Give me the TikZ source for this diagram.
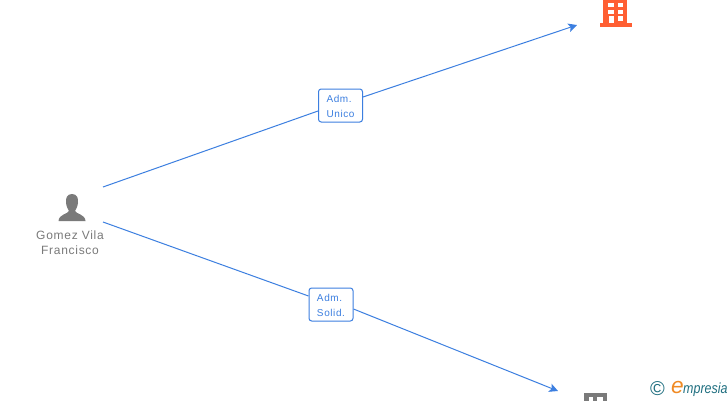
\documentclass[tikz,border=0pt]{standalone}
\usepackage{fontspec}
\setmainfont{Liberation Sans}
\usetikzlibrary{positioning,arrows.meta}
\definecolor{linkblue}{HTML}{3C7FE0}
\definecolor{iconorange}{HTML}{FF5F33}
\definecolor{icongray}{HTML}{7A7A7A}
\definecolor{logoteal}{HTML}{1F6F80}
\definecolor{logoorange}{HTML}{F08A24}
\tikzset{
    rolebox/.style={draw=linkblue, fill=white, rounded corners=2pt, line width=0.75pt, minimum width=33pt, minimum height=24.75pt, inner sep=0pt, align=left, text=linkblue, font=\fontsize{7.5pt}{11.2pt}\selectfont\addfontfeature{LetterSpace=6}},
    link/.style={draw=linkblue, line width=0.75pt},
    person/.style={align=center, text=icongray, font=\fontsize{9pt}{11.2pt}\selectfont\addfontfeature{LetterSpace=6}}
}
\begin{document}
\begin{tikzpicture}[x=0.75pt, y=-0.75pt]
    \useasboundingbox (0,0) rectangle (728,400);
    \clip (0,0) rectangle (728,400);
    \fill[white] (0,0) rectangle (728,400);

    % Nguoi
    \fill[icongray] (72,194) .. controls (67,194) and (65.5,198) .. (66,203) .. controls (66.5,207) and (68,209) .. (69,211) .. controls (68,214) and (59,214) .. (58.5,221) -- (85.5,221) .. controls (85,214) and (76,214) .. (75,211) .. controls (76,209) and (77.5,207) .. (78,203) .. controls (78.5,198) and (77,194) .. (72,194) -- cycle;
    \node[person] (gomez) at (70,243) {Gomez Vila\\Francisco};

    % Toa nha cam
    \fill[iconorange] (603,-2) rectangle (627,24);
    \fill[iconorange] (599.5,23) rectangle (631.5,26.5);
    \fill[white] (608,3) rectangle (613.5,7);
    \fill[white] (618,3) rectangle (623,7);
    \fill[white] (608,9.5) rectangle (613.5,13.5);
    \fill[white] (618,9.5) rectangle (623,13.5);
    \fill[white] (609,16) rectangle (613.5,23);
    \fill[white] (618,16) rectangle (623,20.5);

    % Toa nha xam
    \fill[icongray] (584,393) rectangle (606.5,402);
    \fill[white] (588.5,397) rectangle (593,402);
    \fill[white] (597,397) rectangle (602.5,402);

    % Diem dau, diem cuoi
    \coordinate (startup) at (103,187);
    \coordinate (startdown) at (103,222);
    \coordinate (endup) at (577,25);
    \coordinate (enddown) at (558,391);

    % Nhan
    \node[rolebox] (unico) at (340.5,105.5) {\rule{0pt}{6.5pt}Adm.\hspace{1pt}\\Unico};
    \node[rolebox] (solid) at (331,304.5) {\rule{0pt}{6.5pt}Adm.\hspace{1pt}\\Solid.};

    % Duong noi
    \draw[link] (startup) -- (unico.west |- 0,111);
    \draw[link, -{Stealth[length=6.5pt,width=6.5pt,inset=1.5pt]}] (unico.east |- 0,97) -- (endup);
    \draw[link] (startdown) -- (solid.west |- 0,296);
    \draw[link, -{Stealth[length=6.5pt,width=6.5pt,inset=1.5pt]}] (solid.east |- 0,309) -- (enddown);

    % Logo
    \node[text=logoteal, font=\fontsize{15pt}{15pt}\selectfont, inner sep=0pt] (copyr) at (657.5,388.5) {©};
    \node[text=logoorange, font=\fontsize{17pt}{17pt}\selectfont\itshape, inner sep=0pt] (logoe) at (677.5,388) {e};
    \node[text=logoteal, font=\fontsize{11pt}{12pt}\selectfont\itshape, inner sep=0pt, anchor=base west, xscale=0.85] (logotext) at (683,393) {mpresia};
\end{tikzpicture}
\end{document}
